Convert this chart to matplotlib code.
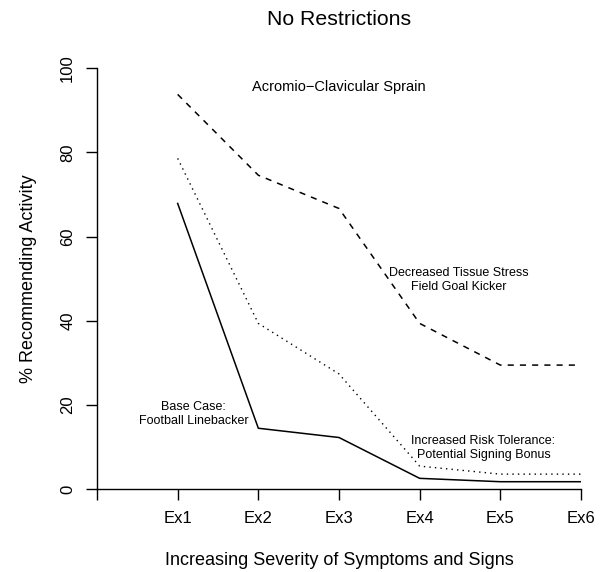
import matplotlib
matplotlib.use("Agg")
import matplotlib.pyplot as plt

plt.rcParams['font.family'] = ['Liberation Sans', 'DejaVu Sans']

# data
positions = [1, 2, 3, 4, 5, 6]
tick_labels = ["", "Ex1", "Ex2", "Ex3", "Ex4", "Ex5", "Ex6"]
base_case = [67.9, 14.5, 12.3, 2.6, 1.8, 1.8]
risk_tolerance = [78.6, 39.4, 27.4, 5.5, 3.6, 3.6]
tissue_stress = [93.8, 74.6, 66.7, 39.4, 29.5, 29.5]

fig = plt.figure(figsize=(6.01, 5.72), dpi=100)
ax = fig.add_axes([0.1614, 0.1446, 0.8053, 0.736])

ax.plot(positions, base_case, color='black', linestyle='-', linewidth=1.1)
ax.plot(positions, risk_tolerance, color='black', linestyle=(0, (1, 3)), linewidth=1.0)
ax.plot(positions, tissue_stress, color='black', linestyle=(0, (4, 4)), linewidth=1.1)

ax.set_xlim(0, 6)
ax.set_ylim(0, 100)
ax.set_xticks(range(7))
ax.set_xticklabels(tick_labels)
ax.set_yticks(range(0, 101, 20))
ax.set_yticklabels([str(v) for v in range(0, 101, 20)], rotation=90, va='center')

for side in ['top', 'right']:
    ax.spines[side].set_visible(False)
for side in ['left', 'bottom']:
    ax.spines[side].set_linewidth(1.0)
ax.tick_params(axis='both', length=7.7, width=1.0, labelsize=12, direction='out')
ax.tick_params(axis='x', pad=8)
ax.tick_params(axis='y', pad=8)

ax.set_xlabel("Increasing Severity of Symptoms and Signs", fontsize=13, labelpad=19)
ax.set_ylabel("% Recommending Activity", fontsize=13, labelpad=17)
ax.set_title("No Restrictions", fontsize=15.3, pad=31)

ax.text(3.0, 95.5, "Acromio\u2212Clavicular Sprain", ha='center', va='center', fontsize=10.5)
ax.text(4.49, 49.8, "Decreased Tissue Stress\nField Goal Kicker", ha='center', va='center',
        fontsize=9, linespacing=1.2)
ax.text(1.2, 17.9, "Base Case:\nFootball Linebacker", ha='center', va='center',
        fontsize=9, linespacing=1.2)
ax.text(4.79, 9.9, "Increased Risk Tolerance:\nPotential Signing Bonus", ha='center', va='center',
        fontsize=9, linespacing=1.2)

fig.savefig("out.png", dpi=100)
